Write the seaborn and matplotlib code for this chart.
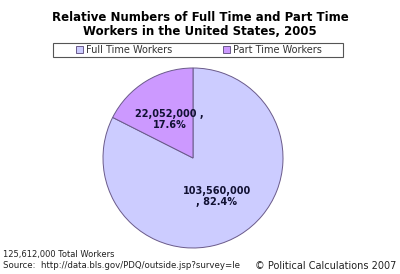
import matplotlib
matplotlib.use("Agg")
import matplotlib.pyplot as plt
from matplotlib.patches import Rectangle
import seaborn as sns

categories = ["Full Time Workers", "Part Time Workers"]
values = [103560000, 22052000]
colors = ["#CCCCFF", "#CC99FF"]
title = "Relative Numbers of Full Time and Part Time\nWorkers in the United States, 2005"
total_note = "125,612,000 Total Workers"
source_note = "Source:  http://data.bls.gov/PDQ/outside.jsp?survey=le"
copyright_note = "\u00a9 Political Calculations 2007"

sns.set_theme(style="white")
plt.rcParams["font.family"] = ["DejaVu Sans"]

fig = plt.figure(figsize=(4.0, 2.74), dpi=100)
fig.patch.set_facecolor("white")

ax = fig.add_axes([103/400, (274-248)/274, 180/400, 180/274])

counter = {"i": 0}

def make_label(pct):
    i = counter["i"]
    counter["i"] += 1
    v = values[i]
    if i == 0:
        return f"{v:,}\n, {pct:.1f}%"
    return f"{v:,} ,\n{pct:.1f}%"

wedges, texts, autotexts = ax.pie(
    values, colors=colors, startangle=90, counterclock=False,
    autopct=make_label, pctdistance=0.5,
    wedgeprops=dict(edgecolor="#6a5a8a", linewidth=0.7),
    textprops=dict(fontsize=7.0, fontweight="bold", color="#111133"),
)
ax.set_xlim(-1.0, 1.0)
ax.set_ylim(-1.0, 1.0)
ax.set_aspect("equal")

fig.text(0.5, 1 - 24.5/274, title, ha="center", va="center",
         fontsize=8.5, fontweight="bold", color="black", linespacing=1.15)

# legend box
fig.patches.append(Rectangle((53/400, 1 - 57/274), 290/400, 14/274,
                             transform=fig.transFigure, facecolor="white",
                             edgecolor="#555555", linewidth=0.8, zorder=1))
leg = fig.legend(wedges, categories, loc="center", ncol=2,
                 bbox_to_anchor=(199/400, 1 - 50/274),
                 frameon=False, fontsize=7.0,
                 handlelength=0.7, handleheight=0.7, handletextpad=0.3,
                 columnspacing=5.2, borderpad=0.1, labelcolor="#333333")
leg.set_zorder(3)

fig.text(3/400, 1 - 254/274, total_note, ha="left", va="center", fontsize=6.0, color="#222222")
fig.text(3/400, 1 - 266/274, source_note, ha="left", va="center", fontsize=6.2, color="#222222")
fig.text(396/400, 1 - 266/274, copyright_note, ha="right", va="center", fontsize=7.0, color="#222222")

fig.savefig("out.png", dpi=100, facecolor="white")
